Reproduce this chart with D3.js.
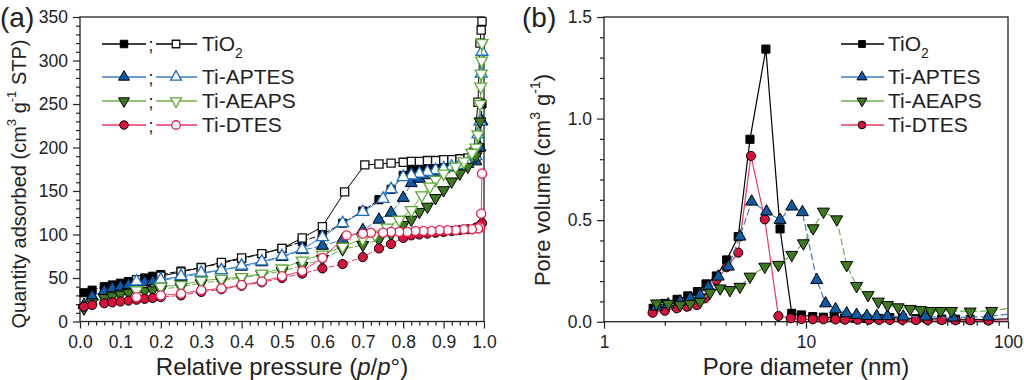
<!DOCTYPE html>
<html><head><meta charset="utf-8">
<script src="https://cdn.jsdelivr.net/npm/d3@7"></script>
<style>body{margin:0;background:#fff}svg{display:block;font-family:"Liberation Sans",Arial,sans-serif}</style>
</head><body><svg id="c" width="1024" height="380"></svg>
<script>
// ---------- Panel (a): N2 isotherms ----------
const seriesNames = ["TiO2", "Ti-APTES", "Ti-AEAPS", "Ti-DTES"];
const pressureAds = [0.01,0.03,0.06,0.08,0.10,0.12,0.14,0.16,0.18,0.20,0.25,0.30,0.35,0.40,0.45,0.50,0.55,0.60,0.65,0.70,0.74,0.77,0.80,0.82,0.84,0.86,0.88,0.90,0.92,0.94,0.96,0.98,0.99,0.995];
const tio2Ads  = [33,36,40,42,44,46,48,50,52,54,58,62,67,72,78,84,92,100,113,127,140,152,168,174,177,179,181,182,183,184,186,188,200,250];
const aptesAds = [19,29,35,38,40,42,44,45,46,47,51,55,59,63,68,74,82,87,94,105,117,125,142,159,164,168,172,175,177,179,181,184,200,230];
const aeapsAds = [15,22,27,29,31,33,34,35,36,37,40,44,47,50,54,58,64,72,83,88,94,100,111,117,126,132,142,151,161,170,178,190,230,320];
const dtesAds  = [17,19,21,22,23,24,25,26,27,28,30,34,37,41,45,50,55,61,66,74,84,89,96,99,100,101,102,103,104,105,106,108,110,113];

const tio2DesP  = [0.995,0.993,0.99,0.985,0.975,0.96,0.94,0.92,0.90,0.88,0.86,0.84,0.82,0.80,0.77,0.74,0.705,0.655,0.60,0.55,0.50,0.45,0.40,0.35,0.30,0.25,0.20,0.14];
const tio2Des   = [345,335,320,252,195,188,187,186,186,185,185,184,184,183,182,181,180,149,109,96,84,78,73,68,62,57,52,48];
const aptesDesP = [0.995,0.993,0.99,0.985,0.98,0.96,0.94,0.92,0.90,0.88,0.86,0.84,0.82,0.80,0.77,0.75,0.70,0.65,0.60,0.55,0.50,0.45,0.40,0.35,0.30,0.25,0.20,0.14];
const aptesDes  = [310,285,230,215,190,182,180,178,176,174,172,170,168,166,152,141,126,113,97,83,75,69,64,59,56,52,48,46];
const aeapsDesP = [0.995,0.994,0.993,0.992,0.99,0.985,0.98,0.97,0.95,0.93,0.90,0.88,0.866,0.846,0.82,0.79,0.76,0.73,0.70,0.65,0.60,0.55,0.50,0.45,0.40,0.35,0.30,0.25,0.20,0.14];
const aeapsDes  = [320,300,285,270,250,215,200,194,184,178,170,163,155,145,128,117,108,100,95,86,77,70,61,55,51,49,47,42,40,36];
const dtesDesP  = [0.995,0.993,0.99,0.985,0.97,0.95,0.93,0.91,0.89,0.87,0.85,0.83,0.81,0.79,0.77,0.75,0.72,0.70,0.66,0.60,0.55,0.50,0.45,0.40,0.35,0.30,0.25,0.20,0.14];
const dtesDes   = [170,124,108,107,106,106,105,105,105,104,104,104,103,103,103,102,102,101,99,73,58,52,46,42,38,36,32,30,28];

const xTicksA = [0,0.1,0.2,0.3,0.4,0.5,0.6,0.7,0.8,0.9,1.0];
const yTicksA = [0,50,100,150,200,250,300,350];

// ---------- Panel (b): pore size distribution ----------
const tio2D  = [1.75,2.0,2.3,2.6,2.9,3.2,3.6,4.05,4.62,5.28,6.33,7.44,8.5,9.5,10.8,12.2,13.8,15.5,17.5,20,23,26,30,35,40,47,55,65,80,115];
const tio2V  = [0.066,0.09,0.11,0.127,0.148,0.186,0.225,0.304,0.419,0.898,1.342,0.457,0.041,0.033,0.025,0.022,0.02,0.018,0.017,0.016,0.016,0.02,0.018,0.015,0.014,0.013,0.012,0.011,0.01,0.017];
const aptesD = [1.82,2.08,2.38,2.67,2.99,3.28,3.68,4.13,4.71,5.38,6.38,7.44,8.5,9.6,11.3,12.5,14.0,15.9,17.8,20,22.4,25.3,30.3,39,53.5,80,115];
const aptesV = [0.074,0.085,0.099,0.115,0.131,0.172,0.222,0.271,0.419,0.591,0.542,0.501,0.567,0.539,0.205,0.09,0.061,0.041,0.033,0.028,0.027,0.027,0.025,0.025,0.02,0.025,0.045];
const aeapsD = [1.82,2.08,2.38,2.67,2.99,3.35,3.76,4.2,4.71,5.28,6.25,7.3,8.5,9.7,10.85,12.2,14.2,15.9,17.8,20.3,22.8,25.3,28.6,32.8,37,41.5,46.4,52.5,65,83,115];
const aeapsV = [0.09,0.088,0.082,0.088,0.099,0.143,0.164,0.156,0.172,0.222,0.271,0.28,0.329,0.386,0.46,0.542,0.504,0.279,0.176,0.131,0.099,0.082,0.071,0.063,0.058,0.053,0.053,0.053,0.05,0.053,0.075];
const dtesD  = [1.74,2.0,2.29,2.57,2.88,3.16,3.6,4.05,4.62,5.34,6.25,7.3,8.4,9.5,10.8,12.2,14,15.6,18,20.5,23,26,30,35,40,47,55,65,80,115];
const dtesV  = [0.044,0.054,0.066,0.074,0.082,0.115,0.205,0.268,0.34,0.816,0.504,0.028,0.017,0.013,0.012,0.012,0.011,0.01,0.01,0.01,0.009,0.009,0.009,0.008,0.008,0.008,0.007,0.007,0.006,0.01];
const xTicksB = [1,10,100];
const yTicksB = [0,0.5,1.0,1.5];

// ---------- styles ----------
const style = {
  "TiO2":     {shape:"square", fill:"#000", open:"#111", line:"#000"},
  "Ti-APTES": {shape:"up",     fill:"#0d5aa7", open:"#1a6cc4", line:"#3a7dc9"},
  "Ti-AEAPS": {shape:"down",   fill:"#3d7a1e", open:"#5dab38", line:"#6cb04a"},
  "Ti-DTES":  {shape:"circle", fill:"#d9123c", open:"#e8224f", line:"#ea3a62"}
};
const FONT = '"Liberation Sans",Arial,sans-serif';
const svg = d3.select("#c");

function symPath(shape, scale){
  const s = scale||1;
  if(shape==="square") return d3.symbol(d3.symbolSquare, 66*s)();
  if(shape==="circle") return d3.symbol(d3.symbolCircle, 66*s)();
  return d3.symbol(d3.symbolTriangle, 62*s)();
}
function drawMarker(g, x, y, name, filled, scale){
  const st = style[name];
  const rot = st.shape==="down" ? " rotate(180)" : "";
  g.append("path").attr("d", symPath(st.shape, scale))
   .attr("transform", `translate(${x},${y})${rot}`)
   .attr("fill", filled ? st.fill : "#fff")
   .attr("stroke", filled ? "#000" : st.open)
   .attr("stroke-width", filled ? 1 : 1.3);
}

function frameAndAxes(g, x, y, opts){
  const [x0,x1] = x.range(), [y0,y1] = y.range();
  const minorX = g.append("g").attr("transform",`translate(0,${y0})`)
    .call(d3.axisBottom(x).tickValues(opts.minorX).tickSize(4).tickFormat(""));
  const minorY = g.append("g").attr("transform",`translate(${x0},0)`)
    .call(d3.axisLeft(y).tickValues(opts.minorY).tickSize(4).tickFormat(""));
  const ax = g.append("g").attr("transform",`translate(0,${y0})`)
    .call(d3.axisBottom(x).tickValues(opts.xTicks).tickSize(7).tickPadding(7).tickSizeOuter(0).tickFormat(opts.xFmt));
  const ay = g.append("g").attr("transform",`translate(${x0},0)`)
    .call(d3.axisLeft(y).tickValues(opts.yTicks).tickSize(7).tickPadding(5).tickSizeOuter(0).tickFormat(opts.yFmt));
  [minorX,minorY,ax,ay].forEach(a=>{
    a.selectAll("path.domain").remove();
    a.selectAll("line").attr("stroke","#222").attr("stroke-width",1.2);
    a.selectAll("text").attr("font-family",FONT).attr("font-size",17.5).attr("fill","#222");
  });
  g.append("rect").attr("x",x0).attr("y",y1).attr("width",x1-x0).attr("height",y0-y1)
   .attr("fill","none").attr("stroke","#222").attr("stroke-width",1.3);
}

// ================= Panel (a) =================
const xA = d3.scaleLinear().domain([0,1]).range([80,484]);
const yA = d3.scaleLinear().domain([0,350]).range([321.5,17]);
const gA = svg.append("g");
const minorXA = d3.range(0,1.0001,0.02).filter(v=>Math.abs(v*10-Math.round(v*10))>1e-6);
const minorYA = d3.range(0,351,10).filter(v=>v%50!==0);
frameAndAxes(gA, xA, yA, {xTicks:xTicksA, yTicks:yTicksA, minorX:minorXA, minorY:minorYA,
  xFmt:d3.format(".1f"), yFmt:d3.format("d")});

const isoData = [
  {name:"TiO2",     adsP:pressureAds, ads:tio2Ads,  desP:tio2DesP,  des:tio2Des},
  {name:"Ti-APTES", adsP:pressureAds, ads:aptesAds, desP:aptesDesP, des:aptesDes},
  {name:"Ti-AEAPS", adsP:pressureAds, ads:aeapsAds, desP:aeapsDesP, des:aeapsDes},
  {name:"Ti-DTES",  adsP:pressureAds, ads:dtesAds,  desP:dtesDesP,  des:dtesDes}
];
const lineA = d3.line().x(d=>xA(d[0])).y(d=>yA(d[1]));
const plotA = gA.append("g");
isoData.forEach(s=>{
  const st = style[s.name];
  const ads = s.adsP.map((p,i)=>[p,s.ads[i]]);
  const des = s.desP.map((p,i)=>[p,s.des[i]]);
  plotA.append("path").attr("d",lineA(ads)).attr("fill","none").attr("stroke",st.line).attr("stroke-width",1).attr("stroke-dasharray","6,2");
  plotA.append("path").attr("d",lineA(des)).attr("fill","none").attr("stroke",st.line).attr("stroke-width",1);
  ads.forEach(d=>drawMarker(plotA, xA(d[0]), yA(d[1]), s.name, true));
  des.forEach(d=>drawMarker(plotA, xA(d[0]), yA(d[1]), s.name, false));
});

// legend (a)
const legRows = [44, 77, 101, 125];
const legA = gA.append("g");
seriesNames.forEach((n,i)=>{
  const st = style[n], y = legRows[i];
  legA.append("line").attr("x1",102).attr("x2",146).attr("y1",y).attr("y2",y).attr("stroke",st.line).attr("stroke-width",1.3);
  legA.append("line").attr("x1",156).attr("x2",197).attr("y1",y).attr("y2",y).attr("stroke",st.line).attr("stroke-width",1.3);
  drawMarker(legA, 124, y, n, true, 0.85);
  drawMarker(legA, 176, y, n, false, 0.85);
  legA.append("text").attr("x",151).attr("y",y).attr("dy","0.35em").attr("text-anchor","middle")
    .attr("font-family",FONT).attr("font-size",19).attr("fill","#222").text(";");
  const t = legA.append("text").attr("x",202).attr("y",y).attr("dy","0.35em")
    .attr("font-family",FONT).attr("font-size",21).attr("fill","#222");
  if(n==="TiO2"){ t.append("tspan").text("TiO"); t.append("tspan").attr("font-size",14).attr("dy","0.45em").text("2"); }
  else t.text(n);
});

// titles (a)
gA.append("text").attr("x",282).attr("y",375).attr("text-anchor","middle")
  .attr("font-family",FONT).attr("font-size",24).attr("fill","#222")
  .call(t=>{t.append("tspan").text("Relative pressure (");
            t.append("tspan").attr("font-style","italic").text("p");
            t.append("tspan").text("/");
            t.append("tspan").attr("font-style","italic").text("p");
            t.append("tspan").text("°)");});
gA.append("text").attr("transform","translate(26,184) rotate(-90)").attr("text-anchor","middle")
  .attr("font-family",FONT).attr("font-size",20).attr("fill","#222")
  .call(t=>{t.append("tspan").text("Quantity adsorbed (cm");
            t.append("tspan").attr("font-size",13).attr("dy","-0.75em").text("3");
            t.append("tspan").attr("dy","0.48em").text(" g");
            t.append("tspan").attr("font-size",13).attr("dy","-0.75em").text("-1");
            t.append("tspan").attr("dy","0.48em").text(" STP)");});
svg.append("text").attr("x",0).attr("y",27).attr("font-family",FONT).attr("font-size",28).attr("fill","#222").text("(a)");

// ================= Panel (b) =================
const xB = d3.scaleLog().domain([1,100]).range([604,1008]);
const yB = d3.scaleLinear().domain([0,1.5]).range([321.7,17]);
const gB = svg.append("g");
const minorXB = [2,3,4,5,6,7,8,9,20,30,40,50,60,70,80,90];
const minorYB = [0.1,0.2,0.3,0.4,0.6,0.7,0.8,0.9,1.1,1.2,1.3,1.4];
frameAndAxes(gB, xB, yB, {xTicks:xTicksB, yTicks:yTicksB, minorX:minorXB, minorY:minorYB,
  xFmt:d3.format("d"), yFmt:d3.format(".1f")});

svg.append("defs").append("clipPath").attr("id","clipB").append("rect")
  .attr("x",604).attr("y",10).attr("width",404).attr("height",320);
const psd = [
  {name:"TiO2",     d:tio2D,  v:tio2V,  dash:null},
  {name:"Ti-DTES",  d:dtesD,  v:dtesV,  dash:null},
  {name:"Ti-APTES", d:aptesD, v:aptesV, dash:"7,3"},
  {name:"Ti-AEAPS", d:aeapsD, v:aeapsV, dash:"7,3"}
];
const lineB = d3.line().x(d=>xB(d[0])).y(d=>yB(d[1]));
const plotB = gB.append("g").attr("clip-path","url(#clipB)");
psd.forEach(s=>{
  const st = style[s.name];
  const pts = s.d.map((d,i)=>[d,s.v[i]]);
  plotB.append("path").attr("d",lineB(pts)).attr("fill","none").attr("stroke",st.line).attr("stroke-width",1.2)
    .attr("stroke-dasharray",s.dash);
  pts.filter(p=>p[0]<=100).forEach(p=>drawMarker(plotB, xB(p[0]), yB(p[1]), s.name, true));
});

// legend (b)
const legB = gB.append("g");
seriesNames.forEach((n,i)=>{
  const st = style[n], y = legRows[i];
  legB.append("line").attr("x1",841).attr("x2",884).attr("y1",y).attr("y2",y).attr("stroke",st.line).attr("stroke-width",1.3);
  drawMarker(legB, 862, y, n, true, 0.7);
  const t = legB.append("text").attr("x",888).attr("y",y).attr("dy","0.35em")
    .attr("font-family",FONT).attr("font-size",21).attr("fill","#222");
  if(n==="TiO2"){ t.append("tspan").text("TiO"); t.append("tspan").attr("font-size",14).attr("dy","0.45em").text("2"); }
  else t.text(n);
});

gB.append("text").attr("x",806).attr("y",375).attr("text-anchor","middle")
  .attr("font-family",FONT).attr("font-size",24).attr("fill","#222").text("Pore diameter (nm)");
gB.append("text").attr("transform","translate(550,180) rotate(-90)").attr("text-anchor","middle")
  .attr("font-family",FONT).attr("font-size",22).attr("fill","#222")
  .call(t=>{t.append("tspan").text("Pore volume (cm");
            t.append("tspan").attr("font-size",14).attr("dy","-0.75em").text("3");
            t.append("tspan").attr("dy","0.48em").text(" g");
            t.append("tspan").attr("font-size",14).attr("dy","-0.75em").text("-1");
            t.append("tspan").attr("dy","0.48em").text(")");});
svg.append("text").attr("x",522).attr("y",27).attr("font-family",FONT).attr("font-size",28).attr("fill","#222").text("(b)");
</script></body></html>
